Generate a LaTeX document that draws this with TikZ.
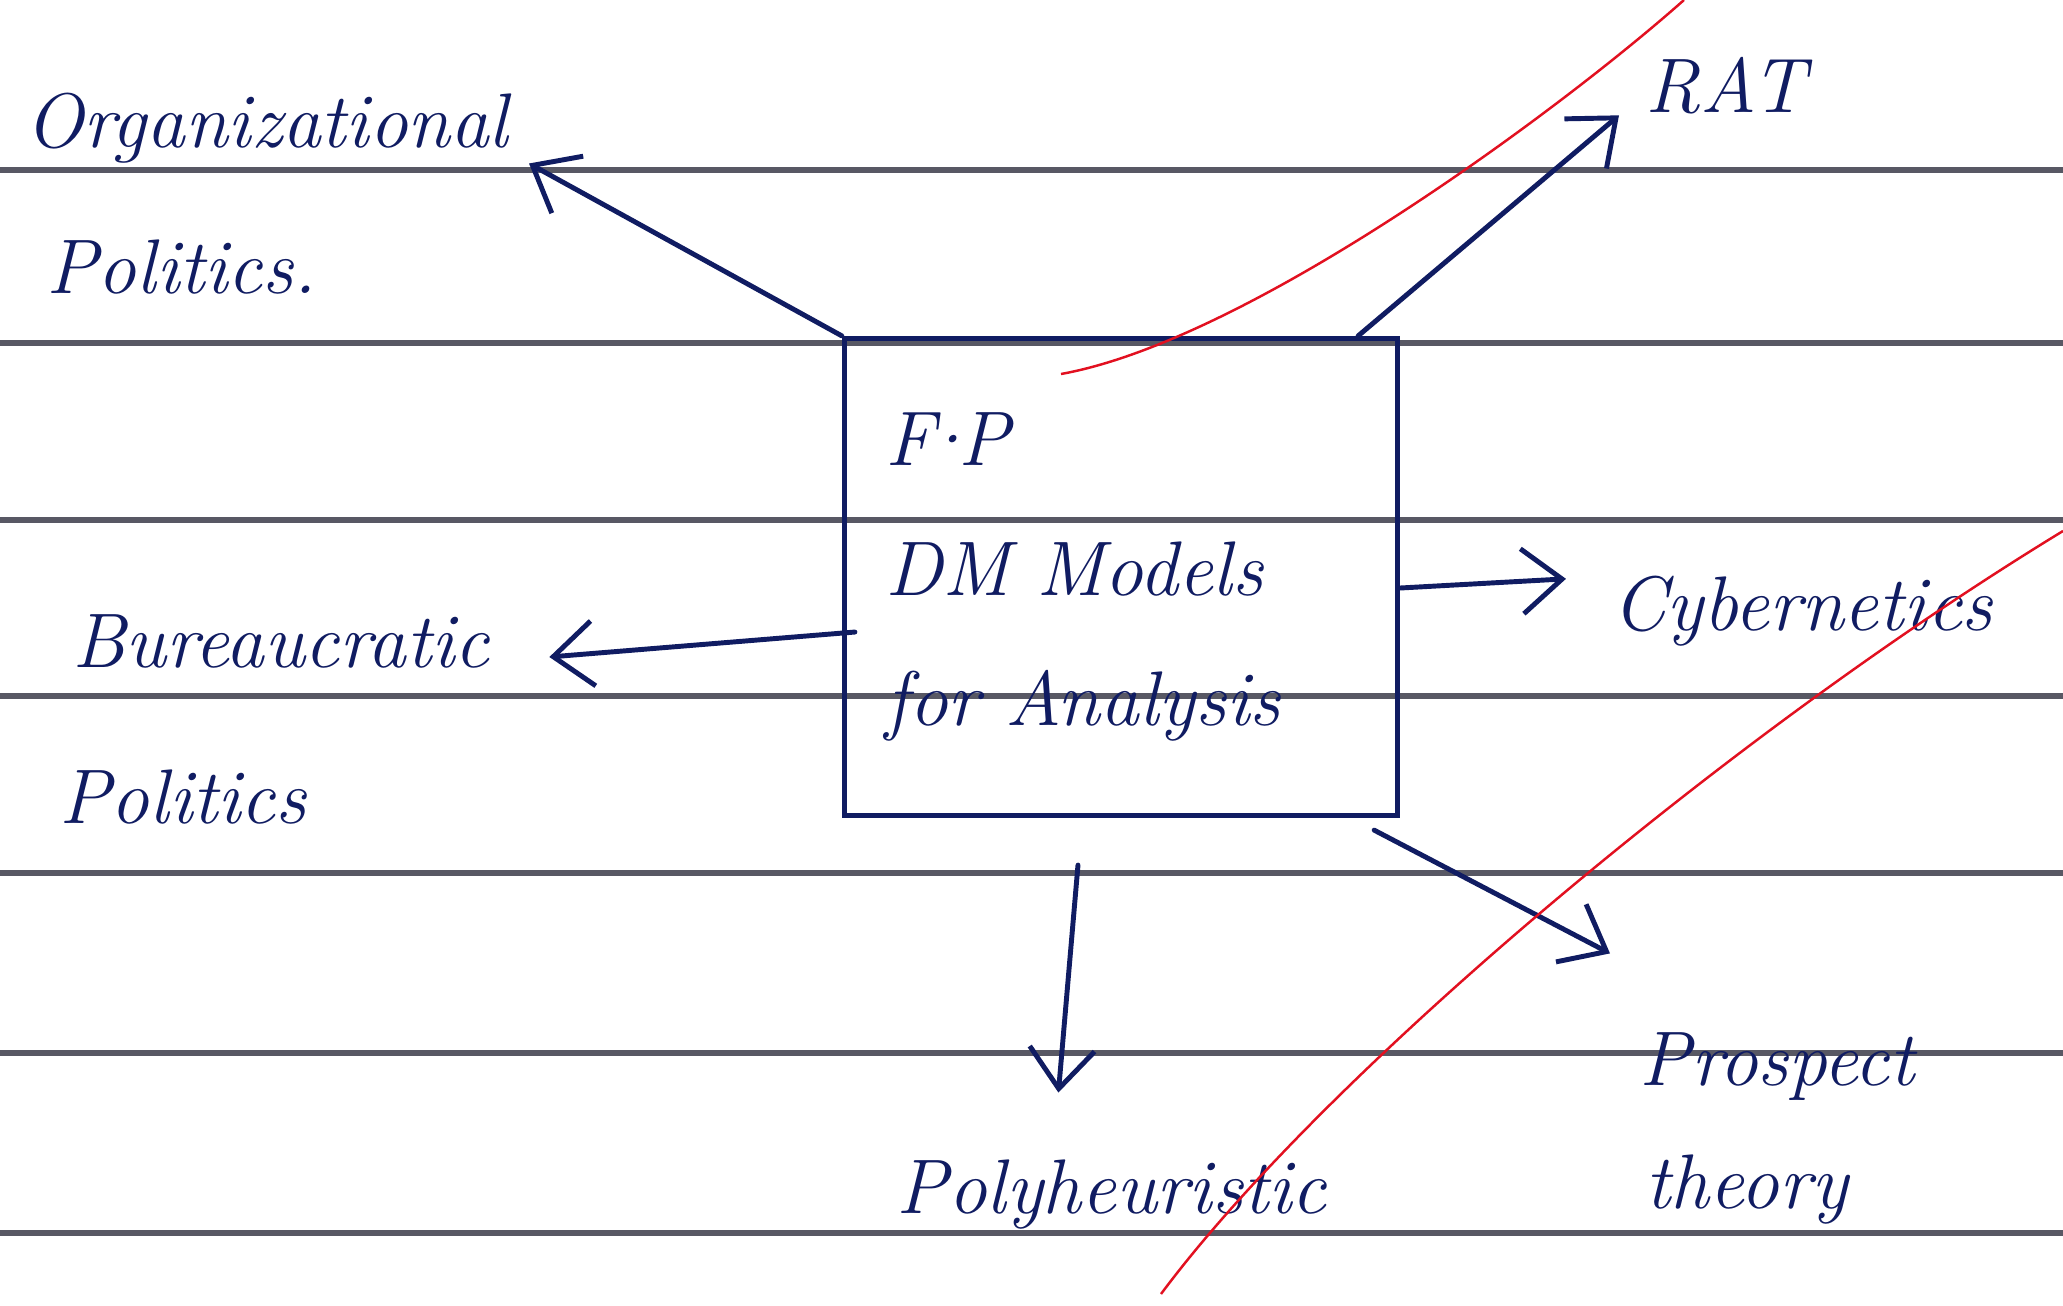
\documentclass[tikz,border=0pt]{standalone}
\usepackage{fontspec}
\usepackage{tikz}
\usetikzlibrary{arrows.meta}

\definecolor{ink}{RGB}{16,28,98}
\definecolor{rule}{RGB}{88,88,100}
\definecolor{pen}{RGB}{226,16,32}

\tikzset{
	hand/.style={text=ink, inner sep=0pt, font=\fontsize{22}{37}\selectfont\itshape},
	box/.style={hand, draw=ink, line width=1.4pt, text width=4.7cm, align=left, inner xsep=0.415cm, inner ysep=0pt, minimum height=4.77cm},
	arr/.style={draw=ink, line width=1.4pt, line cap=round, -{Straight Barb[length=4mm,width=6.5mm]}},
	ruled/.style={draw=rule, line width=1.8pt},
	redline/.style={draw=pen, line width=0.7pt}
}

\begin{document}
\begin{tikzpicture}[x=0.01cm, y=-0.01cm]
			\useasboundingbox[fill=white] (0,0) rectangle (2063,1306);
			\foreach \y in {170,343,520,696,873,1053,1233}
				\draw[ruled] (0,\y) -- (2063,\y);
			
			\node[box] (fp) at (1121,577) {F\kern-5pt·\kern-5pt P\\DM Models\\for Analysis};
			
			\node[hand, anchor=base west] (org)   at (25,147)    {Organizational};
			\node[hand, anchor=base west] (orgP)  at (46,293)    {Politics.};
			\node[hand, anchor=base west] (rat)   at (1645,113)  {RAT};
			\node[hand, anchor=base west] (cyb)   at (1612,630)  {Cybernetics};
			\node[hand, anchor=base west] (bur)   at (72,667)    {Bureaucratic};
			\node[hand, anchor=base west] (burP)  at (59,823)    {Politics};
			\node[hand, anchor=base west] (poly)  at (896,1213)  {Polyheuristic};
			\node[hand, anchor=base west] (pros)  at (1639,1085) {Prospect};
			\node[hand, anchor=base west] (prosT) at (1645,1208) {theory};
			
			\draw[arr] (fp.north west) -- ([xshift=2mm]org.south east);
			\draw[arr] ([xshift=-4.2mm]fp.north east) -- ([xshift=-2.6mm]rat.south west);
			\draw[arr] ([yshift=-1.1mm]fp.east) -- ([xshift=-4.6mm,yshift=-0.4mm]cyb.north west);
			\draw[arr] ([xshift=1.3mm,yshift=-5.5mm]fp.west) -- ([xshift=5.9mm,yshift=1mm]bur.base east);
			\draw[arr] ([xshift=-4.3mm,yshift=-4.7mm]fp.south) -- ([xshift=-5.3mm,yshift=6.6mm]poly.north);
			\draw[arr] ([xshift=-2.6mm,yshift=-1.2mm]fp.south east) -- ([xshift=-2.9mm,yshift=7.8mm]pros.north west);
			
			\draw[redline] (1061,374) .. controls (1250,340) and (1560,110) .. (1684,0);
			\draw[redline] (1161,1294) .. controls (1320,1080) and (1720,740) .. (2063,531);
		\end{tikzpicture}
\end{document}
